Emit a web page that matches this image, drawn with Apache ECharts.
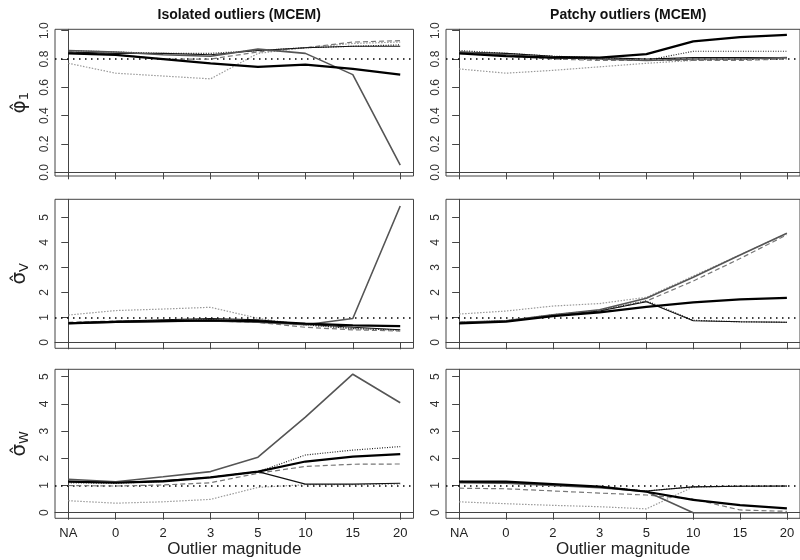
<!DOCTYPE html>
<html>
<head>
<meta charset="utf-8">
<script src="https://cdn.jsdelivr.net/npm/echarts@6/dist/echarts.min.js"></script>
<style>html,body{margin:0;padding:0;background:#fff}#c{width:800px;height:560px}</style>
</head>
<body>
<div id="c"></div>
<script>
// ---------- data ----------
const categories = ['NA','0','2','3','5','10','15','20'];
const colTitles = ['Isolated outliers (MCEM)', 'Patchy outliers (MCEM)'];
const xTitle = 'Outlier magnitude';
const refValues = [0.8, 1, 1];
const yTicksPhi = [0, 0.2, 0.4, 0.6, 0.8, 1.0];
const yTicksSigma = [0, 1, 2, 3, 4, 5];

// phi1, isolated
const phiIso = [
  [0.84, 0.83, 0.80, 0.77, 0.745, 0.76, 0.73, 0.69],
  [0.86, 0.85, 0.83, 0.82, 0.87, 0.84, 0.69, 0.05],
  [0.85, 0.84, 0.84, 0.83, 0.86, 0.88, 0.89, 0.89],
  [0.85, 0.83, 0.80, 0.80, 0.85, 0.88, 0.92, 0.93],
  [0.86, 0.85, 0.84, 0.84, 0.86, 0.88, 0.89, 0.90],
  [0.77, 0.70, 0.68, 0.66, 0.84, 0.88, 0.91, 0.92]
];
// phi1, patchy
const phiPat = [
  [0.84, 0.82, 0.81, 0.81, 0.835, 0.925, 0.955, 0.97],
  [0.85, 0.83, 0.81, 0.80, 0.79, 0.80, 0.80, 0.81],
  [0.85, 0.84, 0.82, 0.81, 0.80, 0.81, 0.81, 0.81],
  [0.84, 0.82, 0.80, 0.79, 0.79, 0.79, 0.79, 0.80],
  [0.86, 0.84, 0.82, 0.81, 0.79, 0.855, 0.855, 0.855],
  [0.73, 0.70, 0.72, 0.745, 0.77, 0.79, 0.80, 0.80]
];
// sigma V, isolated
const sigVIso = [
  [0.76, 0.82, 0.85, 0.88, 0.85, 0.75, 0.68, 0.65],
  [0.75, 0.80, 0.83, 0.85, 0.80, 0.70, 0.95, 5.45],
  [0.78, 0.84, 0.90, 0.95, 0.90, 0.72, 0.60, 0.50],
  [0.80, 0.85, 0.85, 0.85, 0.80, 0.60, 0.50, 0.45],
  [0.78, 0.83, 0.88, 0.90, 0.85, 0.70, 0.55, 0.48],
  [1.09, 1.27, 1.33, 1.40, 0.96, 0.69, 0.55, 0.50]
];
// sigma V, patchy
const sigVPat = [
  [0.76, 0.83, 1.05, 1.20, 1.42, 1.60, 1.72, 1.78],
  [0.80, 0.86, 1.10, 1.30, 1.76, 2.60, 3.49, 4.36],
  [0.78, 0.85, 1.08, 1.25, 1.62, 0.86, 0.82, 0.80],
  [0.80, 0.85, 1.05, 1.25, 1.65, 2.45, 3.35, 4.30],
  [0.80, 0.86, 1.10, 1.28, 1.66, 0.88, 0.82, 0.80],
  [1.13, 1.25, 1.45, 1.55, 1.80, 2.65, 3.50, 4.35]
];
// sigma W, isolated
const sigWIso = [
  [1.14, 1.10, 1.15, 1.30, 1.51, 1.88, 2.06, 2.15],
  [1.23, 1.14, 1.32, 1.51, 2.04, 3.51, 5.09, 4.04],
  [1.15, 1.12, 1.18, 1.30, 1.51, 1.05, 1.05, 1.08],
  [1.00, 0.98, 1.02, 1.10, 1.45, 1.70, 1.78, 1.79],
  [1.10, 1.08, 1.15, 1.30, 1.50, 2.12, 2.30, 2.43],
  [0.44, 0.35, 0.40, 0.49, 0.93, 1.03, 1.03, 1.05]
];
// sigma W, patchy
const sigWPat = [
  [1.14, 1.14, 1.05, 0.96, 0.77, 0.47, 0.28, 0.16],
  [1.10, 1.08, 1.00, 0.92, 0.78, 0.00, 0.00, 0.00],
  [1.12, 1.10, 1.02, 0.94, 0.80, 0.95, 0.97, 0.98],
  [0.90, 0.88, 0.80, 0.72, 0.65, 0.50, 0.10, 0.05],
  [1.15, 1.12, 1.03, 0.95, 0.80, 0.95, 0.98, 0.98],
  [0.40, 0.33, 0.27, 0.22, 0.14, 0.95, 0.97, 0.98]
];

// ---------- layout & style ----------
const panels = [
  [phiIso, phiPat],
  [sigVIso, sigVPat],
  [sigWIso, sigWPat]
];
const rowTicks = [yTicksPhi, yTicksSigma, yTicksSigma];
const rowDecimals = [1, 0, 0];
const rowRanges = [[-0.026, 1.01], [-0.24, 5.72], [-0.206, 5.27]];
const rowTop = [29.3, 199.3, 369.3];
const rowHeight = [146.7, 149, 149];
const colLeft = [55, 446];
const panelWidth = 358.5;
const rowNames = [
  '{m|φ̂}{s|1}',
  '{m|σ̂}{s|V}',
  '{m|σ̂}{s|W}'
];
const seriesStyles = [
  {color: '#000', width: 2.2, type: 'solid'},
  {color: '#555', width: 1.6, type: 'solid'},
  {color: '#111', width: 1.1, type: 'solid'},
  {color: '#777', width: 1.2, type: [5, 3]},
  {color: '#222', width: 1.2, type: [1, 1.5]},
  {color: '#999', width: 1.2, type: [1.5, 1.5]}
];
const FONT = 'Liberation Sans, Arial, sans-serif';

const grids = [], xAxes = [], yAxes = [], series = [];
const xIdx = categories.map((c, i) => i);
let g = 0;
for (let r = 0; r < 3; r++) {
  for (let c = 0; c < 2; c++) {
    grids.push({
      left: colLeft[c], top: rowTop[r], width: panelWidth, height: rowHeight[r],
      show: true, borderColor: '#444', borderWidth: 1, backgroundColor: 'transparent'
    });
    xAxes.push({
      gridIndex: g, type: 'value', min: -0.28, max: 7.28,
      splitLine: {show: false},
      axisLine: {show: true, lineStyle: {color: '#444', width: 1}},
      axisTick: {show: true, length: 7, inside: false, customValues: xIdx, lineStyle: {color: '#444'}},
      axisLabel: {
        show: r === 2, customValues: xIdx, margin: 9,
        formatter: v => categories[Math.round(v)],
        fontFamily: FONT, fontSize: 13, color: '#222'
      },
      name: r === 2 ? xTitle : '', nameLocation: 'middle', nameGap: 23,
      nameTextStyle: {fontFamily: FONT, fontSize: 17, color: '#222'}
    });
    yAxes.push({
      gridIndex: g, type: 'value', min: rowRanges[r][0], max: rowRanges[r][1],
      splitLine: {show: false},
      axisLine: {show: true, lineStyle: {color: '#444', width: 1}},
      axisTick: {show: true, length: 7, inside: false, customValues: rowTicks[r], lineStyle: {color: '#444'}},
      axisLabel: {
        show: true, customValues: rowTicks[r], rotate: 90, margin: 4,
        formatter: v => Number(v).toFixed(rowDecimals[r]),
        fontFamily: FONT, fontSize: 12, color: '#333'
      },
      name: c === 0 ? rowNames[r] : '', nameLocation: 'middle', nameGap: 24, nameRotate: 90,
      nameTextStyle: {
        fontFamily: 'DejaVu Sans, sans-serif', color: '#222',
        rich: {
          m: {fontSize: 20, fontFamily: 'DejaVu Sans, sans-serif', color: '#222'},
          s: {fontSize: 13, fontFamily: 'DejaVu Sans, sans-serif', color: '#222', padding: [9, 0, 0, 0]}
        }
      }
    });
    const sets = panels[r][c];
    sets.forEach((vals, k) => {
      const st = seriesStyles[k];
      const s = {
        type: 'line', xAxisIndex: g, yAxisIndex: g,
        data: vals.map((v, i) => [i, v]),
        symbol: 'none', silent: true, animation: false,
        lineStyle: {color: st.color, width: st.width, type: st.type},
        z: 3 + (6 - k)
      };
      if (k === 0) {
        s.markLine = {
          silent: true, symbol: ['none', 'none'], label: {show: false},
          lineStyle: {color: '#000', width: 1.5, type: [1.5, 4.5]},
          data: [{yAxis: refValues[r]}], animation: false
        };
      }
      series.push(s);
    });
    g++;
  }
}

const titles = colTitles.map((t, c) => ({
  text: t, left: colLeft[c] + panelWidth / 2 - (c === 1 ? 2 : 0), top: 3, textAlign: 'center',
  textStyle: {fontFamily: FONT, fontSize: 14, fontWeight: 'bold', color: '#111'}
}));

const chart = echarts.init(document.getElementById('c'), null, {renderer: 'canvas'});
chart.setOption({
  backgroundColor: '#fff',
  animation: false,
  title: titles,
  grid: grids,
  xAxis: xAxes,
  yAxis: yAxes,
  series: series
});
</script>
</body>
</html>
